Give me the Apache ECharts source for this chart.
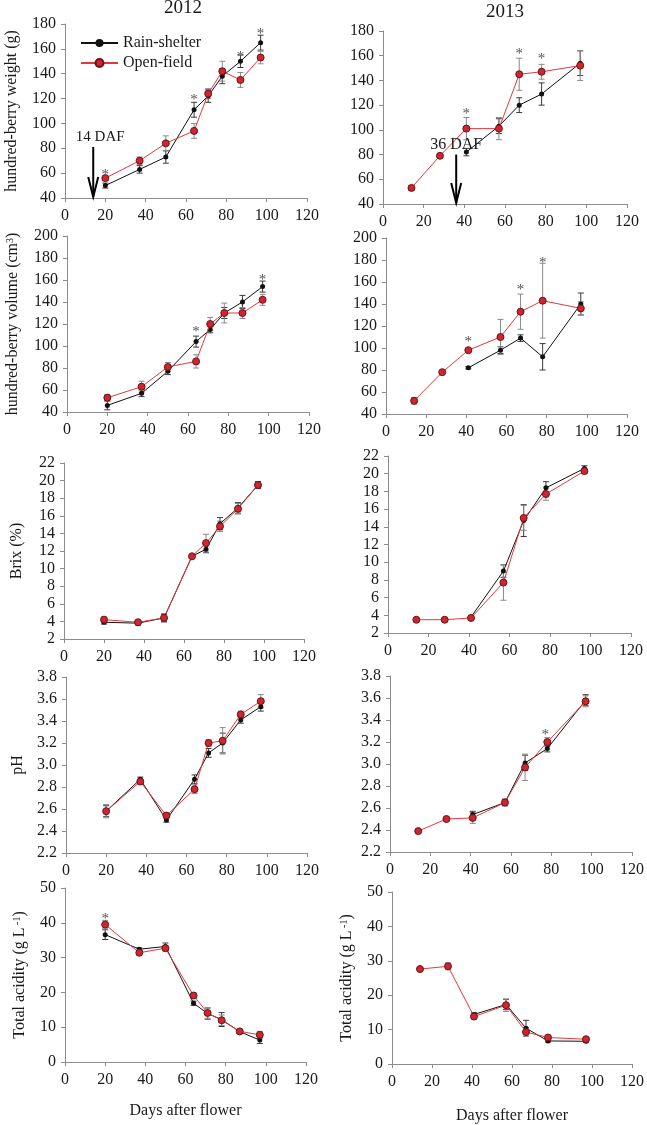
<!DOCTYPE html>
<html>
<head>
<meta charset="utf-8">
<script src="https://cdn.jsdelivr.net/npm/echarts@6/dist/echarts.min.js"></script>
<style>
html,body{margin:0;padding:0;background:#fff;}
#chart{width:647px;height:1125px;}
</style>
</head>
<body>
<div id="chart"></div>
<script>
// ---------------- DATA ----------------
const days2012 = [20, 37, 50, 64, 71, 78, 87, 97];
const days2013Open = [14, 28, 41, 57, 67, 78, 97];
const days2013Rain = [41, 57, 67, 78, 97];
const xTicks = [0, 20, 40, 60, 80, 100, 120];

// hundred-berry weight (g)
const weight2012Rain = [50, 63, 73, 111, 122, 138, 150, 165];
const weight2012RainSd = [2, 3, 5, 6, 5, 6, 5, 6];
const weight2012Open = [56, 70, 84, 94, 124, 142, 135, 153];
const weight2012OpenSd = [2, 3, 6, 6, 4, 8, 6, 5];
const weight2013Open = [53, 79, 101, 101, 145, 147, 152];
const weight2013OpenSd = [2, 1, 9, 9, 13, 6, 12];
const weight2013Rain = [82, 103, 120, 129, 154];
const weight2013RainSd = [3, 6, 6, 9, 10];

// hundred-berry volume (cm3)
const volume2012Rain = [46, 57, 77, 104, 115, 130, 140, 154];
const volume2012RainSd = [4, 3, 3, 5, 3, 5, 6, 5];
const volume2012Open = [53, 63, 81, 86, 120, 130, 130, 142];
const volume2012OpenSd = [3, 5, 4, 6, 6, 9, 5, 5];
const volume2013Open = [52, 78, 98, 110, 133, 143, 136];
const volume2013OpenSd = [3, 1, 1, 16, 16, 34, 6];
const volume2013Rain = [82, 98, 109, 92, 140];
const volume2013RainSd = [1, 3, 3, 12, 10];

// Brix (%)
const brix2012Rain = [3.9, 3.8, 4.4, 11.4, 12.2, 15.1, 16.9, 19.5];
const brix2012RainSd = [0.2, 0.2, 0.4, 0.1, 0.4, 0.7, 0.6, 0.4];
const brix2012Open = [4.2, 3.9, 4.4, 11.4, 12.9, 14.8, 16.8, 19.5];
const brix2012OpenSd = [0.3, 0.2, 0.5, 0.1, 1.0, 0.6, 0.6, 0.3];
const brix2013Open = [3.5, 3.5, 3.7, 7.7, 15.0, 17.7, 20.3];
const brix2013OpenSd = [0.1, 0.1, 0.1, 2.0, 1.4, 0.7, 0.3];
const brix2013Rain = [3.8, 9.0, 14.7, 18.4, 20.6];
const brix2013RainSd = [0.1, 0.7, 1.8, 0.7, 0.3];

// pH
const ph2012Rain = [2.58, 2.87, 2.50, 2.87, 3.11, 3.20, 3.41, 3.53];
const ph2012RainSd = [0.05, 0.02, 0.02, 0.04, 0.04, 0.09, 0.03, 0.04];
const ph2012Open = [2.58, 2.85, 2.54, 2.78, 3.20, 3.22, 3.46, 3.58];
const ph2012OpenSd = [0.06, 0.02, 0.02, 0.04, 0.03, 0.12, 0.03, 0.06];
const ph2013Open = [2.39, 2.50, 2.51, 2.65, 2.97, 3.20, 3.57];
const ph2013OpenSd = [0.01, 0.01, 0.05, 0.03, 0.12, 0.04, 0.05];
const ph2013Rain = [2.54, 2.65, 3.01, 3.14, 3.58];
const ph2013RainSd = [0.03, 0.03, 0.07, 0.03, 0.05];

// Total acidity (g L-1)
const ta2012Rain = [36.6, 32.4, 33.2, 16.9, 13.9, 12.2, 8.7, 6.3];
const ta2012RainSd = [1.4, 0.4, 1.0, 0.6, 1.6, 2.0, 0.4, 1.0];
const ta2012Open = [39.5, 31.4, 32.7, 19.1, 14.1, 12.0, 8.8, 7.8];
const ta2012OpenSd = [1.2, 0.5, 0.8, 0.8, 1.5, 1.5, 0.4, 1.0];
const ta2013Open = [27.6, 28.4, 13.8, 17.1, 9.3, 7.7, 7.2];
const ta2013OpenSd = [0.3, 1.0, 0.7, 1.8, 1.3, 0.5, 0.4];
const ta2013Rain = [14.4, 17.3, 10.4, 6.7, 6.6];
const ta2013RainSd = [0.5, 1.5, 2.3, 0.3, 0.3];

// significance marks [day, value]
const stars = [
  [[20, 61], [64, 121], [87, 156], [97, 174]],
  [[41, 115], [67, 164], [78, 160]],
  [[64, 115], [97, 163]],
  [[41, 108], [67, 155], [78, 180]],
  [],
  [],
  [],
  [[77, 3.29]],
  [[20, 42]],
  []
];
// arrows [day, top value, bottom value, label]
const arrows = [
  [[14, 81, 40, '14 DAF']],
  [[36, 80, 40, '36 DAF']],
  [], [], [], [], [], [], [], []
];

const seriesNames = ['Rain-shelter', 'Open-field'];
const yearTitles = ['2012', '2013'];
const xName = 'Days after flower';

// ---------------- LAYOUT / STYLE ----------------
const FONT = "'Liberation Serif', 'Times New Roman', serif";
const TXT = '#1a1a1a';
const AXIS = '#8c8c8c';
const TICK_FS = 16;
const arrowLabelDx = [7, 0, 0, 0, 0, 0, 0, 0, 0, 0];
const arrowLabelSize = [15, 16, 16, 16, 16, 16, 16, 16, 16, 16];

const layout = [
  {left: 65, top: 24, width: 242, height: 174},
  {left: 383, top: 31, width: 244, height: 173},
  {left: 67, top: 236, width: 242, height: 176},
  {left: 386, top: 238, width: 241, height: 176},
  {left: 64, top: 463, width: 240, height: 176},
  {left: 388, top: 456, width: 243, height: 177},
  {left: 66, top: 677, width: 241, height: 176},
  {left: 390, top: 676, width: 243, height: 176},
  {left: 65, top: 888, width: 241, height: 174},
  {left: 392, top: 892, width: 242, height: 173}
];

const yCfg = [
  {min: 40, max: 180, interval: 20, dec: 0, name: 'hundred-berry weight (g)', gap: 45},
  {min: 40, max: 180, interval: 20, dec: 0, name: ''},
  {min: 40, max: 200, interval: 20, dec: 0, name: 'hundred-berry volume (cm{sup|3})', gap: 46},
  {min: 40, max: 200, interval: 20, dec: 0, name: ''},
  {min: 2, max: 22, interval: 2, dec: 0, name: 'Brix (%)', gap: 39},
  {min: 2, max: 22, interval: 2, dec: 0, name: ''},
  {min: 2.2, max: 3.8, interval: 0.2, dec: 1, name: 'pH', gap: 40},
  {min: 2.2, max: 3.8, interval: 0.2, dec: 1, name: ''},
  {min: 0, max: 50, interval: 10, dec: 0, name: 'Total acidity (g L{sup| -1})', gap: 37},
  {min: 0, max: 50, interval: 10, dec: 0, name: 'Total acidity (g L{sup| -1})', gap: 37}
];

const panelData = [
  {rd: days2012, r: weight2012Rain, rs: weight2012RainSd, od: days2012, o: weight2012Open, os: weight2012OpenSd},
  {rd: days2013Rain, r: weight2013Rain, rs: weight2013RainSd, od: days2013Open, o: weight2013Open, os: weight2013OpenSd},
  {rd: days2012, r: volume2012Rain, rs: volume2012RainSd, od: days2012, o: volume2012Open, os: volume2012OpenSd},
  {rd: days2013Rain, r: volume2013Rain, rs: volume2013RainSd, od: days2013Open, o: volume2013Open, os: volume2013OpenSd},
  {rd: days2012, r: brix2012Rain, rs: brix2012RainSd, od: days2012, o: brix2012Open, os: brix2012OpenSd},
  {rd: days2013Rain, r: brix2013Rain, rs: brix2013RainSd, od: days2013Open, o: brix2013Open, os: brix2013OpenSd},
  {rd: days2012, r: ph2012Rain, rs: ph2012RainSd, od: days2012, o: ph2012Open, os: ph2012OpenSd},
  {rd: days2013Rain, r: ph2013Rain, rs: ph2013RainSd, od: days2013Open, o: ph2013Open, os: ph2013OpenSd},
  {rd: days2012, r: ta2012Rain, rs: ta2012RainSd, od: days2012, o: ta2012Open, os: ta2012OpenSd},
  {rd: days2013Rain, r: ta2013Rain, rs: ta2013RainSd, od: days2013Open, o: ta2013Open, os: ta2013OpenSd}
];

const grids = [], xAxes = [], yAxes = [], series = [];

function errRender(color) {
  return function (params, api) {
    const x = api.value(0);
    const p1 = api.coord([x, api.value(2)]);
    const p2 = api.coord([x, api.value(1)]);
    const hw = 3;
    return {
      type: 'group',
      children: [
        {type: 'line', shape: {x1: p1[0], y1: p1[1], x2: p2[0], y2: p2[1]}, style: {stroke: color, lineWidth: 1}},
        {type: 'line', shape: {x1: p1[0] - hw, y1: p1[1], x2: p1[0] + hw, y2: p1[1]}, style: {stroke: color, lineWidth: 1}},
        {type: 'line', shape: {x1: p2[0] - hw, y1: p2[1], x2: p2[0] + hw, y2: p2[1]}, style: {stroke: color, lineWidth: 1}}
      ]
    };
  };
}

layout.forEach((g, i) => {
  const isLeft = i % 2 === 0;
  grids.push({left: g.left, top: g.top, width: g.width, height: g.height, containLabel: false});
  const isBottom = i >= 8;
  xAxes.push({
    type: 'value', gridIndex: i, min: xTicks[0], max: xTicks[xTicks.length - 1], interval: xTicks[1] - xTicks[0],
    axisLine: {show: true, lineStyle: {color: AXIS, width: 1}},
    axisTick: {show: true, length: 4, lineStyle: {color: AXIS}},
    axisLabel: {margin: 10, fontFamily: FONT, fontSize: TICK_FS, color: TXT,
      showMinLabel: true, showMaxLabel: true, hideOverlap: false},
    splitLine: {show: false},
    name: isBottom ? xName : '',
    nameLocation: 'middle',
    nameGap: isLeft ? 41 : 44,
    nameTextStyle: {fontFamily: FONT, fontSize: 16, color: TXT}
  });
  const c = yCfg[i];
  yAxes.push({
    type: 'value', gridIndex: i, min: c.min, max: c.max, interval: c.interval,
    axisLine: {show: true, lineStyle: {color: AXIS, width: 1}},
    axisTick: {show: true, length: 4, lineStyle: {color: AXIS}},
    axisLabel: {margin: 9, fontFamily: FONT, fontSize: TICK_FS, color: TXT,
      showMinLabel: true, showMaxLabel: true, hideOverlap: false,
      formatter: v => Number(v).toFixed(c.dec)},
    splitLine: {show: false},
    name: c.name,
    nameLocation: 'middle',
    nameRotate: 90,
    nameGap: c.gap || 40,
    nameTextStyle: {fontFamily: FONT, fontSize: 16, color: TXT,
      rich: {sup: {fontFamily: FONT, fontSize: 10, color: TXT, verticalAlign: 'top'}}}
  });

  const d = panelData[i];
  series.push({
    type: 'custom', xAxisIndex: i, yAxisIndex: i, silent: true, z: 2,
    renderItem: errRender('#3a3a3a'),
    encode: {x: 0, y: [1, 2]},
    data: d.rd.map((x, k) => [x, d.r[k] - d.rs[k], d.r[k] + d.rs[k]])
  });
  series.push({
    type: 'custom', xAxisIndex: i, yAxisIndex: i, silent: true, z: 2,
    renderItem: errRender('#8a8a8a'),
    encode: {x: 0, y: [1, 2]},
    data: d.od.map((x, k) => [x, d.o[k] - d.os[k], d.o[k] + d.os[k]])
  });
  series.push({
    name: seriesNames[0], type: 'line', xAxisIndex: i, yAxisIndex: i, z: 3,
    data: d.rd.map((x, k) => [x, d.r[k]]),
    symbol: 'circle', symbolSize: 5, showAllSymbol: true,
    lineStyle: {color: '#111', width: 1},
    itemStyle: {color: '#111', borderColor: '#111', borderWidth: 0},
    emphasis: {disabled: true}, animation: false
  });
  series.push({
    name: seriesNames[1], type: 'line', xAxisIndex: i, yAxisIndex: i, z: 4,
    data: d.od.map((x, k) => [x, d.o[k]]),
    symbol: 'circle', symbolSize: 7, showAllSymbol: true,
    lineStyle: {color: '#e03a40', width: 1},
    itemStyle: {color: '#cc2630', borderColor: '#6e1216', borderWidth: 1},
    emphasis: {disabled: true}, animation: false
  });
  if (stars[i].length) {
    series.push({
      type: 'custom', xAxisIndex: i, yAxisIndex: i, silent: true, z: 5,
      renderItem: function (params, api) {
        const p = api.coord([api.value(0), api.value(1)]);
        return {type: 'text', x: p[0], y: p[1] + 3,
          style: {text: '*', font: '15px ' + FONT, fill: '#555', align: 'center', verticalAlign: 'middle'}};
      },
      data: stars[i]
    });
  }
  if (arrows[i].length) {
    series.push({
      type: 'custom', xAxisIndex: i, yAxisIndex: i, silent: true, z: 5,
      renderItem: function (params, api) {
        const a = arrows[i][params.dataIndex];
        const top = api.coord([api.value(0), api.value(1)]);
        const bot = api.coord([api.value(0), api.value(2)]);
        return {
          type: 'group',
          children: [
            {type: 'line', shape: {x1: top[0], y1: top[1], x2: bot[0], y2: bot[1] - 1}, style: {stroke: '#000', lineWidth: 2}},
            {type: 'polyline', shape: {points: [[bot[0] - 5, bot[1] - 21], [bot[0], bot[1] - 1], [bot[0] + 5, bot[1] - 21]]}, style: {stroke: '#000', lineWidth: 2, fill: 'none'}},
            {type: 'text', x: top[0] + arrowLabelDx[i], y: top[1] - 2,
              style: {text: a[3], font: arrowLabelSize[i] + 'px ' + FONT, fill: TXT, align: 'center', verticalAlign: 'bottom'}}
          ]
        };
      },
      data: arrows[i].map(a => [a[0], a[1], a[2]])
    });
  }
});

const option = {
  animation: false,
  backgroundColor: '#fff',
  textStyle: {fontFamily: FONT},
  title: [
    {text: yearTitles[0], left: 183, top: -1, textAlign: 'center', padding: 0,
      textStyle: {fontFamily: FONT, fontSize: 19, fontWeight: 'normal', color: TXT}},
    {text: yearTitles[1], left: 505, top: 3, textAlign: 'center', padding: 0,
      textStyle: {fontFamily: FONT, fontSize: 19, fontWeight: 'normal', color: TXT}}
  ],
  legend: {
    data: seriesNames, orient: 'vertical', left: 80, top: 35,
    itemWidth: 37, itemHeight: 10, itemGap: 4, padding: 0,
    textStyle: {fontFamily: FONT, fontSize: 16, color: TXT},
    selectedMode: false
  },
  grid: grids, xAxis: xAxes, yAxis: yAxes, series: series
};

const chart = echarts.init(document.getElementById('chart'), null, {renderer: 'canvas'});
chart.setOption(option);
</script>
</body>
</html>
